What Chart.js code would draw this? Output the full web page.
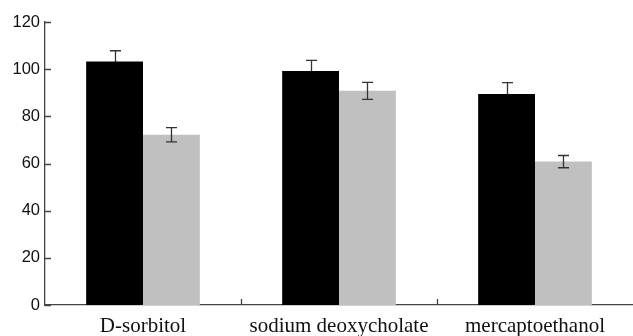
<!DOCTYPE html>
<html>
<head>
<meta charset="utf-8">
<script src="https://cdn.jsdelivr.net/npm/chart.js@4.4.1/dist/chart.umd.min.js"></script>
<style>
  html, body { margin: 0; padding: 0; background: #fff; overflow: hidden; }
  #wrap { width: 633px; height: 336px; position: relative; }
</style>
</head>
<body>
<div id="wrap"><canvas id="chart"></canvas></div>
<script>
// treatments and measured activity (mean ± error)
const categories = ['D-sorbitol', 'sodium deoxycholate', 'mercaptoethanol'];
const blackValues = [103.2, 99.2, 89.5];
const blackErrors = [4.6, 4.5, 4.8];
const grayValues = [72.2, 90.8, 60.8];
const grayErrors = [3.0, 3.6, 2.6];
const yTicks = [0, 20, 40, 60, 80, 100, 120];

const AXIS_COLOR = '#444';

function drawErrorBars(chart, di) {
    const ctx = chart.ctx;
    const yScale = chart.scales.y;
    const ds = chart.data.datasets[di];
    const meta = chart.getDatasetMeta(di);
    ctx.save();
    ctx.strokeStyle = '#333';
    ctx.lineWidth = 1.3;
    meta.data.forEach((bar, i) => {
        const v = ds.data[i];
        const e = ds.errors[i];
        const yTop = yScale.getPixelForValue(v + e);
        const yBot = yScale.getPixelForValue(v - e);
        const x = Math.round(bar.x) + 0.5;
        const cap = 5.5;
        ctx.beginPath();
        ctx.moveTo(x, yTop); ctx.lineTo(x, yBot);
        ctx.moveTo(x - cap, yTop); ctx.lineTo(x + cap, yTop);
        ctx.moveTo(x - cap, yBot); ctx.lineTo(x + cap, yBot);
        ctx.stroke();
    });
    ctx.restore();
}

// whiskers of the dark series sit behind its bars, the light ones on top
const errorBarPlugin = {
    id: 'errorBars',
    beforeDatasetsDraw(chart) {
        chart.data.datasets.forEach((ds, di) => { if (ds.errorsBehind) drawErrorBars(chart, di); });
    },
    afterDatasetsDraw(chart) {
        chart.data.datasets.forEach((ds, di) => { if (!ds.errorsBehind) drawErrorBars(chart, di); });
    }
};

// short tick marks pointing into the plot area
const innerTicksPlugin = {
    id: 'innerTicks',
    afterDraw(chart) {
        const ctx = chart.ctx;
        const { x, y } = chart.scales;
        const area = chart.chartArea;
        ctx.save();
        ctx.strokeStyle = AXIS_COLOR;
        ctx.lineWidth = 1.3;
        ctx.beginPath();
        yTicks.forEach(t => {
            const py = Math.round(y.getPixelForValue(t)) + 0.5;
            ctx.moveTo(area.left, py);
            ctx.lineTo(area.left + 6, py);
        });
        for (let i = 0; i < categories.length - 1; i++) {
            const px = Math.round((x.getPixelForValue(i) + x.getPixelForValue(i + 1)) / 2) + 0.5;
            ctx.moveTo(px, area.bottom);
            ctx.lineTo(px, area.bottom - 6);
        }
        ctx.stroke();
        ctx.restore();
    }
};

new Chart(document.getElementById('chart'), {
    type: 'bar',
    data: {
        labels: categories,
        datasets: [
            { data: blackValues, errors: blackErrors, errorsBehind: true, backgroundColor: '#000000' },
            { data: grayValues, errors: grayErrors, backgroundColor: '#c0c0c0' }
        ]
    },
    options: {
        responsive: true,
        maintainAspectRatio: false,
        animation: false,
        layout: { padding: { top: 22, right: 0, left: 0, bottom: 0 } },
        datasets: { bar: { categoryPercentage: 0.58, barPercentage: 1.0 } },
        plugins: { legend: { display: false }, tooltip: { enabled: false } },
        scales: {
            x: {
                grid: { display: false, drawTicks: false },
                border: { color: AXIS_COLOR, width: 1.3 },
                ticks: {
                    color: '#111',
                    padding: 9,
                    maxRotation: 0,
                    font: { family: '"Liberation Serif", "Times New Roman", serif', size: 21 }
                },
                afterFit(scale) { scale.height = 31; }
            },
            y: {
                min: 0,
                max: 120,
                afterBuildTicks(scale) { scale.ticks = yTicks.map(v => ({ value: v })); },
                grid: { display: false, drawTicks: false },
                border: { color: AXIS_COLOR, width: 1.3 },
                ticks: {
                    color: '#111',
                    padding: 5,
                    font: { family: '"Liberation Sans", Arial, sans-serif', size: 16.5 }
                },
                afterFit(scale) { scale.width = 45; }
            }
        }
    },
    plugins: [errorBarPlugin, innerTicksPlugin]
});
</script>
</body>
</html>
